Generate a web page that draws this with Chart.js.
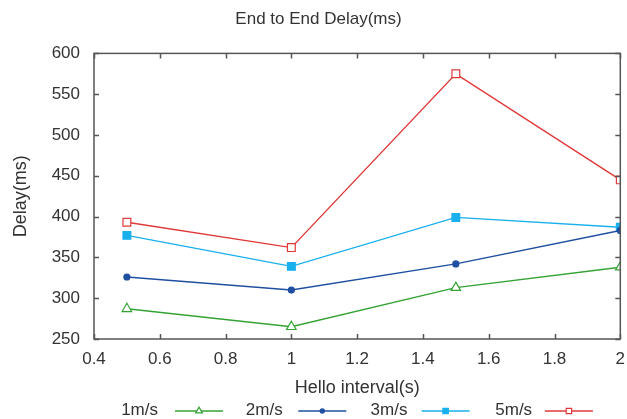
<!DOCTYPE html>
<html>
<head>
<meta charset="utf-8">
<script src="https://cdn.jsdelivr.net/npm/chart.js@4/dist/chart.umd.min.js"></script>
<style>
  html, body { margin: 0; padding: 0; background: #fff; }
  #wrap { width: 627px; height: 419px; position: relative; }
</style>
</head>
<body>
<div id="wrap"><canvas id="c" width="627" height="419"></canvas></div>
<script>
// valores
const intervals = [0.5, 1, 1.5, 2];
const seriesNames = ['1m/s', '2m/s', '3m/s', '5m/s'];
const delay1 = [287, 265, 313, 338];
const delay2 = [326, 310, 342, 383];
const delay3 = [377, 339, 399, 387];
const delay5 = [393, 362, 575, 445];
const xTicks = [0.4, 0.6, 0.8, 1, 1.2, 1.4, 1.6, 1.8, 2];
const yTicks = [250, 300, 350, 400, 450, 500, 550, 600];

const FONT = "'Liberation Sans', Arial, sans-serif";
const TXT = '#333';
const AXIS = '#555';

function pts(vals) { return intervals.map((x, i) => ({ x, y: vals[i] })); }

function ds(label, vals, color, style, radius, hollow) {
  return {
    label, data: pts(vals),
    borderColor: color, borderWidth: 1.4,
    pointStyle: style, pointRadius: radius, pointHoverRadius: radius,
    pointBorderColor: color, pointBorderWidth: 1.2,
    pointBackgroundColor: hollow ? '#fff' : color,
    fill: false, tension: 0
  };
}

// ticks pra dentro (estilo gnuplot) nos quatro lados + legenda em baixo
const boxTicks = {
  id: 'boxTicks',
  afterDatasetsDraw(chart) {
    const { ctx, chartArea: a, scales: { x, y } } = chart;
    ctx.save();
    ctx.strokeStyle = AXIS; ctx.lineWidth = 1.5;
    ctx.strokeRect(a.left, a.top, a.right - a.left, a.bottom - a.top);
    const L = 5;
    ctx.beginPath();
    xTicks.forEach(v => {
      const px = Math.round(x.getPixelForValue(v)) + 0.5;
      ctx.moveTo(px, a.bottom); ctx.lineTo(px, a.bottom - L);
      ctx.moveTo(px, a.top); ctx.lineTo(px, a.top + L);
    });
    yTicks.forEach(v => {
      const py = Math.round(y.getPixelForValue(v)) + 0.5;
      ctx.moveTo(a.left, py); ctx.lineTo(a.left + L, py);
      ctx.moveTo(a.right, py); ctx.lineTo(a.right - L, py);
    });
    ctx.stroke();
    ctx.restore();
  },
  afterDraw(chart) {
    const { ctx } = chart;
    ctx.save();
    ctx.font = '17px ' + FONT;
    ctx.textBaseline = 'middle';
    const yy = 411;
    chart.data.datasets.forEach((d, i) => {
      const x0 = 158 + i * 124.7;
      const l0 = 175 + i * 123.3, l1 = l0 + 48;
      ctx.fillStyle = TXT;
      ctx.textAlign = 'right';
      ctx.fillText(d.label, x0, yy - 1);
      ctx.strokeStyle = d.borderColor; ctx.lineWidth = 1.4;
      ctx.beginPath(); ctx.moveTo(l0, yy); ctx.lineTo(l1, yy); ctx.stroke();
      ctx.fillStyle = d.pointBackgroundColor;
      ctx.strokeStyle = d.pointBorderColor; ctx.lineWidth = d.pointBorderWidth;
      Chart.helpers.drawPoint(ctx, { pointStyle: d.pointStyle, radius: d.pointRadius * 0.7, borderWidth: d.pointBorderWidth, rotation: 0 }, (l0 + l1) / 2, yy);
    });
    ctx.restore();
  }
};

new Chart(document.getElementById('c'), {
  type: 'line',
  data: {
    datasets: [
      ds(seriesNames[0], delay1, '#34a334', 'triangle', 5.5, true),
      ds(seriesNames[1], delay2, '#1f4fa0', 'circle', 3, false),
      ds(seriesNames[2], delay3, '#1ab0ee', 'rect', 5.5, false),
      ds(seriesNames[3], delay5, '#e03838', 'rect', 5.5, true)
    ]
  },
  plugins: [boxTicks],
  options: {
    responsive: false, animation: false,
    layout: { padding: { left: 10, right: 0, top: 0, bottom: 20 } },
    plugins: {
      legend: { display: false },
      tooltip: { enabled: false },
      title: {
        display: true, text: 'End to End Delay(ms)', color: TXT,
        font: { family: FONT, size: 17, weight: 'normal' },
        padding: { top: 9, bottom: 24 }
      }
    },
    scales: {
      x: {
        type: 'linear', min: 0.4, max: 2,
        afterBuildTicks: s => { s.ticks = xTicks.map(v => ({ value: v })); },
        afterFit: s => { s.height = 60; s.paddingRight = 6; },
        grid: { display: false, drawTicks: false },
        border: { display: false },
        ticks: { color: TXT, font: { family: FONT, size: 17 }, padding: 10, maxRotation: 0,
                 callback: v => String(+v.toFixed(1)) },
        title: { display: true, text: 'Hello interval(s)', color: TXT,
                 font: { family: FONT, size: 18 }, padding: { top: 6, bottom: 0 } }
      },
      y: {
        min: 250, max: 600,
        afterBuildTicks: s => { s.ticks = yTicks.map(v => ({ value: v })); },
        afterFit: s => { s.width = 84; },
        grid: { display: false, drawTicks: false },
        border: { display: false },
        ticks: { color: TXT, font: { family: FONT, size: 17 }, padding: 14 },
        title: { display: true, text: 'Delay(ms)', color: TXT,
                 font: { family: FONT, size: 18 }, padding: { top: 0, bottom: 6 } }
      }
    }
  }
});
</script>
</body>
</html>
